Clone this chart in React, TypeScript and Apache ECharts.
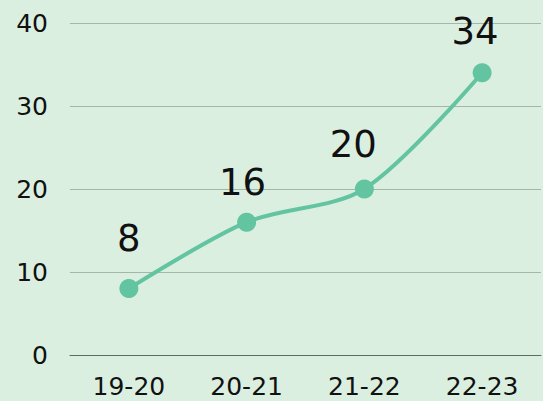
import React, { useEffect, useRef } from "react";
import * as echarts from "echarts";

const categories = ["19-20", "20-21", "21-22", "22-23"];
const values = [8, 16, 20, 34];
const yTicks = { min: 0, max: 40, interval: 10 };

// label placement tweaks (style only)
const labelDistance = [22, 12, 17, 13];
const labelShiftX = [0, -4, -11, -7];

export default function App() {
  const ref = useRef<HTMLDivElement>(null);
  useEffect(() => {
    if (!ref.current) return;
    const chart = echarts.init(ref.current, undefined, { renderer: "svg" });
    const font = "'DejaVu Sans', sans-serif";
    chart.setOption({
      animation: false,
      backgroundColor: "#dbefe0",
      grid: { left: 70, right: 2, top: 23, bottom: 46 },
      xAxis: {
        type: "category",
        data: categories,
        boundaryGap: true,
        axisLine: { show: true, lineStyle: { color: "#5d6b62", width: 1 } },
        axisTick: { show: false },
        axisLabel: { color: "#111", fontSize: 25, fontFamily: font, margin: 19 },
      },
      yAxis: {
        type: "value",
        min: yTicks.min,
        max: yTicks.max,
        interval: yTicks.interval,
        axisLine: { show: false },
        axisTick: { show: false },
        axisLabel: { color: "#111", fontSize: 25, fontFamily: font, margin: 22 },
        splitLine: { lineStyle: { color: "#a2b6a9", width: 1 } },
      },
      series: [
        {
          type: "line",
          data: values.map((v, i) => ({
            value: v,
            label: { distance: labelDistance[i], offset: [labelShiftX[i], 0] },
          })),
          smooth: 0.3,
          symbol: "circle",
          symbolSize: 19,
          itemStyle: { color: "#62c4a0" },
          lineStyle: { color: "#62c4a0", width: 4 },
          label: {
            show: true,
            position: "top",
            color: "#111",
            fontSize: 37,
            fontFamily: font,
          },
        },
      ],
    });
    return () => chart.dispose();
  }, []);
  return (
    <div
      ref={ref}
      style={{ position: "fixed", left: 0, top: 0, width: 543, height: 401 }}
    />
  );
}
